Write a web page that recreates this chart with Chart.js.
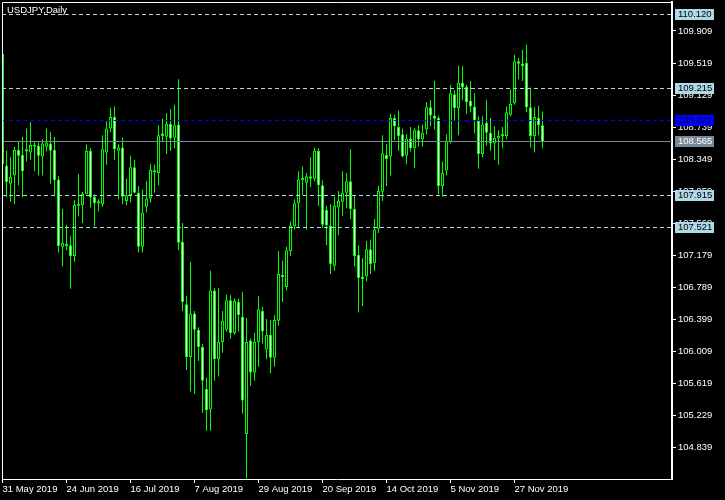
<!DOCTYPE html>
<html>
<head>
<meta charset="utf-8">
<script src="https://cdn.jsdelivr.net/npm/chart.js@4.4.1/dist/chart.umd.min.js"></script>
<style>
  html, body { margin: 0; padding: 0; background: #000; overflow: hidden; }
</style>
</head>
<body>
<canvas id="myChart" width="725" height="500"></canvas>
<script>
// daily bars from 31 May 2019, one per trading day
const symbolTitle = 'USDJPY,Daily';
const xTickLabels = ['31 May 2019', '24 Jun 2019', '16 Jul 2019', '7 Aug 2019', '29 Aug 2019',
    '20 Sep 2019', '14 Oct 2019', '5 Nov 2019', '27 Nov 2019'];
const barsPerTick = 16;
const yTickValues = [104.839, 105.229, 105.619, 106.009, 106.399, 106.789, 107.179,
    107.569, 107.959, 108.349, 108.739, 109.129, 109.519, 109.909];

const openPrices = [
    109.63, 108.27, 108.05, 108.15, 108.46, 108.40, 108.47, 108.43, 108.52, 108.51,
    108.38, 108.50, 108.54, 108.46, 108.10, 107.28, 107.31, 107.30, 107.17, 107.80,
    107.79, 107.92, 108.45, 107.89, 107.83, 107.80, 108.43, 108.72, 108.86, 108.45,
    108.49, 107.84, 107.91, 108.25, 107.94, 107.28, 107.77, 107.87, 108.21, 108.18,
    108.66, 108.62, 108.78, 108.61, 108.77, 107.34, 106.58, 105.94, 106.47, 106.27,
    106.06, 105.55, 105.30, 106.75, 105.91, 106.12, 106.27, 106.63, 106.23, 106.61,
    106.43, 105.00, 106.14, 105.75, 106.12, 106.50, 106.03, 106.21, 105.93, 106.38,
    106.94, 106.79, 107.23, 107.53, 107.81, 108.09, 108.06, 108.14, 108.11, 108.45,
    108.03, 107.73, 107.54, 107.05, 107.76, 107.83, 107.94, 108.08, 107.74, 107.18,
    106.92, 106.92, 107.25, 107.08, 107.50, 107.95, 108.40, 108.38, 108.85, 108.74,
    108.65, 108.39, 108.60, 108.48, 108.70, 108.59, 108.71, 108.98, 108.88, 108.85,
    108.02, 108.21, 108.56, 109.14, 108.97, 109.28, 109.23, 109.06, 108.99, 108.82,
    108.41, 108.79, 108.67, 108.54, 108.60, 108.63, 108.63, 108.89, 109.03, 109.54,
    109.51, 109.52, 108.98, 108.63, 108.85, 108.76
];
const highPrices = [
    109.65, 108.45, 108.37, 108.50, 108.56, 108.62, 108.72, 108.80, 108.56, 108.55,
    108.59, 108.72, 108.68, 108.62, 108.14, 107.74, 107.55, 107.41, 107.85, 108.17,
    107.95, 108.53, 108.48, 107.92, 107.86, 108.64, 108.81, 108.97, 108.99, 108.53,
    108.61, 108.11, 108.39, 108.34, 108.02, 107.98, 108.08, 108.29, 108.28, 108.76,
    108.84, 108.91, 108.96, 109.01, 109.32, 107.57, 106.68, 107.10, 106.50, 106.30,
    106.10, 105.69, 106.99, 106.78, 106.78, 106.50, 106.70, 106.69, 106.65, 106.65,
    106.73, 106.41, 106.16, 106.23, 106.68, 106.55, 106.40, 106.39, 106.45, 107.23,
    107.11, 107.28, 107.59, 107.86, 108.20, 108.26, 108.18, 108.37, 108.49, 108.48,
    108.09, 107.78, 107.80, 107.89, 107.96, 108.20, 108.18, 108.47, 107.90, 107.30,
    107.14, 107.35, 107.37, 107.62, 108.02, 108.64, 108.53, 108.90, 108.89, 108.94,
    108.72, 108.65, 108.74, 108.72, 108.76, 108.77, 109.04, 109.07, 109.30, 108.88,
    108.32, 108.65, 109.25, 109.19, 109.49, 109.48, 109.25, 109.30, 109.15, 108.87,
    108.87, 109.07, 108.85, 108.75, 108.70, 108.74, 108.99, 109.20, 109.62, 109.58,
    109.68, 109.74, 109.22, 108.98, 109.00, 108.93
];
const lowPrices = [
    108.27, 107.88, 107.83, 107.80, 108.03, 107.88, 108.32, 108.34, 108.20, 108.15,
    108.15, 108.44, 108.05, 107.90, 107.21, 107.04, 107.24, 106.77, 107.10, 107.65,
    107.57, 107.92, 107.76, 107.53, 107.71, 107.77, 108.28, 108.68, 108.34, 107.86,
    107.80, 107.79, 107.82, 107.93, 107.21, 107.21, 107.70, 107.82, 107.94, 108.03,
    108.56, 108.41, 108.45, 108.48, 107.24, 106.50, 105.78, 105.52, 105.49, 105.89,
    105.26, 105.04, 105.04, 105.65, 105.70, 105.99, 106.25, 106.16, 106.21, 106.25,
    105.25, 104.46, 105.59, 105.65, 105.82, 106.10, 105.91, 105.74, 105.82, 106.32,
    106.61, 106.75, 107.17, 107.49, 107.52, 107.91, 107.49, 108.01, 108.08, 107.78,
    107.51, 107.30, 106.95, 106.99, 107.42, 107.66, 107.75, 107.62, 107.04, 106.48,
    106.56, 106.86, 106.95, 106.99, 107.45, 107.84, 108.02, 108.15, 108.58, 108.45,
    108.37, 108.29, 108.44, 108.24, 108.50, 108.50, 108.65, 108.75, 108.71, 107.92,
    107.89, 108.15, 108.54, 108.82, 108.64, 109.07, 108.90, 108.92, 108.66, 108.23,
    108.37, 108.51, 108.45, 108.34, 108.28, 108.48, 108.59, 108.87, 109.01, 109.32,
    109.30, 108.92, 108.49, 108.43, 108.64, 108.48
];
const closePrices = [
    108.29, 108.07, 108.13, 108.46, 108.39, 108.20, 108.44, 108.52, 108.50, 108.39,
    108.54, 108.55, 108.45, 108.09, 107.29, 107.33, 107.29, 107.17, 107.79, 107.78,
    107.93, 108.45, 107.88, 107.81, 107.81, 108.47, 108.72, 108.86, 108.47, 108.49,
    107.89, 107.91, 108.25, 107.94, 107.28, 107.70, 107.87, 108.22, 108.19, 108.64,
    108.63, 108.78, 108.60, 108.76, 107.33, 106.61, 105.94, 106.47, 106.27, 106.06,
    105.65, 105.29, 106.75, 105.91, 106.12, 106.38, 106.63, 106.23, 106.62, 106.45,
    105.41, 106.12, 105.75, 106.12, 106.52, 106.25, 106.21, 105.93, 106.39, 106.95,
    106.91, 107.24, 107.54, 107.81, 108.10, 108.12, 108.14, 108.11, 108.45, 108.03,
    107.55, 107.54, 107.07, 107.78, 107.84, 107.94, 108.08, 107.74, 107.17, 106.90,
    106.89, 107.25, 107.07, 107.49, 107.96, 108.42, 108.35, 108.85, 108.75, 108.63,
    108.38, 108.60, 108.48, 108.70, 108.59, 108.67, 108.98, 108.88, 108.84, 108.02,
    108.18, 108.57, 109.15, 108.97, 109.28, 109.22, 109.04, 108.99, 108.82, 108.41,
    108.77, 108.67, 108.54, 108.61, 108.63, 108.65, 108.92, 109.02, 109.54, 109.51,
    109.48, 108.98, 108.63, 108.86, 108.76, 108.56
];

// horizontal levels on the chart
const dashedLevels = [110.120, 109.215, 107.915, 107.521];
const blueLevel = 108.821;
const bidLevel = 108.565;

const LIME = '#00ff00';
const FONT_CSS = '9.5px "Liberation Sans", Arial, sans-serif';
const FONT = {family: '"Liberation Sans", Arial, sans-serif', size: 9.5};

const wickData = lowPrices.map((l, i) => ({x: i, y: [l, highPrices[i]]}));
const bodyData = openPrices.map((o, i) => ({x: i, y: [Math.min(o, closePrices[i]), Math.max(o, closePrices[i])]}));
const bodyFill = openPrices.map((o, i) => closePrices[i] < o ? '#ffffff' : '#000000');

const mtPlugin = {
    id: 'mtLook',
    beforeDraw(chart) {
        const c = chart.ctx;
        c.save();
        c.fillStyle = '#000';
        c.fillRect(0, 0, chart.width, chart.height);
        c.restore();
    },
    afterDatasetsDraw(chart) {
        const c = chart.ctx, a = chart.chartArea, ys = chart.scales.y;
        c.save();
        c.lineWidth = 1;
        const hline = (v, color, dash) => {
            const y = Math.round(ys.getPixelForValue(v)) + 0.5;
            c.strokeStyle = color;
            c.setLineDash(dash);
            c.beginPath();
            c.moveTo(a.left, y);
            c.lineTo(a.right, y);
            c.stroke();
        };
        dashedLevels.forEach(v => hline(v, '#add8e6', [4, 3]));
        hline(blueLevel, '#0000ff', [4, 3]);
        hline(bidLevel, '#778899', []);
        c.restore();
    },
    afterDraw(chart) {
        const c = chart.ctx, a = chart.chartArea, ys = chart.scales.y;
        c.save();
        // frame top and left
        c.strokeStyle = '#fff';
        c.lineWidth = 1;
        c.beginPath();
        c.moveTo(a.left + 0.5, a.bottom);
        c.lineTo(a.left + 0.5, a.top + 0.5);
        c.lineTo(a.right, a.top + 0.5);
        c.stroke();

        const tag = (v, bg, fg) => {
            const y = Math.round(ys.getPixelForValue(v));
            c.fillStyle = bg;
            c.fillRect(a.right + 3, y - 5, 39, 11);
            c.fillStyle = fg;
            c.font = FONT_CSS;
            c.textBaseline = 'middle';
            c.textAlign = 'left';
            c.fillText(v.toFixed(3), a.right + 6, y + 0.5);
        };
        dashedLevels.forEach(v => tag(v, '#add8e6', '#000'));
        tag(blueLevel, '#0000ff', '#000040');
        tag(bidLevel, '#778899', '#ffffff');

        c.fillStyle = '#fff';
        c.font = FONT_CSS;
        c.textBaseline = 'middle';
        c.textAlign = 'left';
        c.fillText(symbolTitle, 7, 10);
        c.restore();
    }
};

const ctx = document.getElementById('myChart').getContext('2d');
new Chart(ctx, {
    type: 'bar',
    data: {
        datasets: [{
            label: 'body',
            data: bodyData,
            backgroundColor: bodyFill,
            borderColor: LIME,
            borderWidth: 1,
            borderSkipped: false,
            barThickness: 3,
            minBarLength: 2,
            inflateAmount: 0,
            grouped: false,
            clip: 0
        }, {
            label: 'wick',
            data: wickData,
            backgroundColor: LIME,
            borderWidth: 0,
            barThickness: 1,
            inflateAmount: 0,
            grouped: false,
            clip: 0
        }]
    },
    options: {
        responsive: false,
        animation: false,
        layout: {padding: {left: 2, top: 2, right: 0, bottom: 0}},
        plugins: {legend: {display: false}, tooltip: {enabled: false}},
        scales: {
            x: {
                type: 'linear',
                min: -0.125,
                max: 167.375,
                offset: false,
                afterFit: s => { s.height = 21; s.paddingLeft = 0; s.paddingRight = 0; },
                afterBuildTicks: s => { s.ticks = xTickLabels.map((t, k) => ({value: k * barsPerTick})); },
                grid: {drawOnChartArea: false, offset: false, tickLength: 4, color: '#fff'},
                border: {color: '#fff'},
                ticks: {
                    color: '#fff', font: FONT, padding: 1, align: 'start',
                    autoSkip: false, maxRotation: 0,
                    callback: (v, idx) => xTickLabels[idx]
                }
            },
            y: {
                position: 'right',
                min: 104.453,
                max: 110.262,
                afterFit: s => { s.width = 53; s.paddingTop = 0; s.paddingBottom = 0; },
                afterBuildTicks: s => { s.ticks = yTickValues.map(v => ({value: v})); },
                grid: {drawOnChartArea: false, tickLength: 4, color: '#fff'},
                border: {color: '#fff', width: 2},
                ticks: {
                    color: '#fff', font: FONT, padding: 2, autoSkip: false,
                    callback: v => v.toFixed(3)
                }
            }
        }
    },
    plugins: [mtPlugin]
});
</script>
</body>
</html>
